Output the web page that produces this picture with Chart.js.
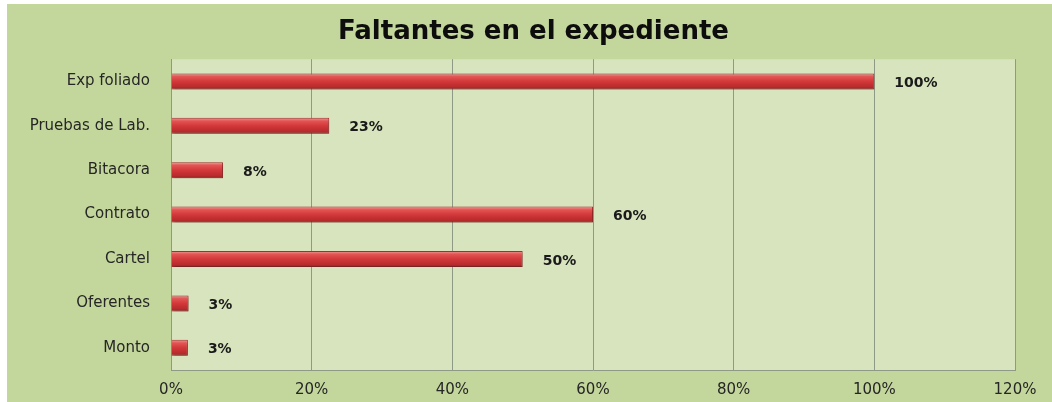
<!DOCTYPE html>
<html lang="es">
<head>
  <meta charset="UTF-8" />
  <title>Faltantes en el expediente</title>
  <script src="https://cdn.jsdelivr.net/npm/chart.js"></script>
  <style>
    body {
      margin: 0;
      background: #ffffff;
    }
    .chart-box {
      position: absolute;
      left: 7px;
      top: 4px;
      width: 1045px;
      height: 398px;
      background: #c3d69b;
    }
  </style>
</head>
<body>
  <div class="chart-box">
    <canvas id="faltantes"></canvas>
  </div>

<script>
  const categories = ['Exp foliado', 'Pruebas de Lab.', 'Bitacora', 'Contrato', 'Cartel', 'Oferentes', 'Monto'];
  const values = [100, 22.5, 7.4, 60, 50, 2.5, 2.4];
  const valueLabels = ['100%', '23%', '8%', '60%', '50%', '3%', '3%'];
  const xTicks = [0, 20, 40, 60, 80, 100, 120];

  const FONT = "'DejaVu Sans', sans-serif";

  // light green plot area like the Excel chart
  const plotBg = {
    id: 'plotBg',
    beforeDraw(chart) {
      const { ctx, chartArea: a } = chart;
      ctx.save();
      ctx.fillStyle = '#d7e4bd';
      ctx.fillRect(a.left, a.top, a.right - a.left, a.bottom - a.top);
      ctx.restore();
    }
  };

  // soft shadow under the bars
  const barShadow = {
    id: 'barShadow',
    beforeDatasetDraw(chart) {
      const ctx = chart.ctx;
      ctx.save();
      ctx.shadowColor = 'rgba(0,0,0,0.35)';
      ctx.shadowBlur = 3;
      ctx.shadowOffsetX = 1;
      ctx.shadowOffsetY = 2;
    },
    afterDatasetDraw(chart) {
      chart.ctx.restore();
    }
  };

  // percent labels to the right of each bar
  const valueText = {
    id: 'valueText',
    afterDatasetsDraw(chart) {
      const ctx = chart.ctx;
      const meta = chart.getDatasetMeta(0);
      ctx.save();
      ctx.font = 'bold 14px ' + FONT;
      ctx.fillStyle = '#1a1a1a';
      ctx.textBaseline = 'middle';
      ctx.textAlign = 'left';
      meta.data.forEach((bar, i) => {
        ctx.fillText(valueLabels[i], bar.x + 20, bar.y + 2);
      });
      ctx.restore();
    }
  };

  function barFill(context) {
    const chart = context.chart;
    const y = chart.scales.y;
    if (!y || context.dataIndex === undefined) return '#c0504d';
    const c = y.getPixelForValue(context.dataIndex);
    if (!isFinite(c)) return '#c0504d';
    const g = chart.ctx.createLinearGradient(0, c - 8, 0, c + 8);
    g.addColorStop(0, '#f29a98');
    g.addColorStop(0.2, '#e25553');
    g.addColorStop(0.5, '#d3383a');
    g.addColorStop(0.85, '#b82b2c');
    g.addColorStop(1, '#922222');
    return g;
  }

  new Chart(document.getElementById('faltantes'), {
    type: 'bar',
    data: {
      labels: categories,
      datasets: [{
        data: values,
        backgroundColor: barFill,
        borderColor: '#a83030',
        borderWidth: 1,
        barPercentage: 0.36,
        categoryPercentage: 1
      }]
    },
    options: {
      indexAxis: 'y',
      responsive: true,
      maintainAspectRatio: false,
      animation: false,
      layout: { padding: { left: 8, right: 0, top: 0, bottom: 0 } },
      plugins: {
        legend: { display: false },
        tooltip: { enabled: false },
        title: {
          display: true,
          text: 'Faltantes en el expediente',
          color: '#0d0d0d',
          font: { family: FONT, size: 26, weight: 'bold' },
          padding: { top: 13, bottom: 11 }
        }
      },
      scales: {
        x: {
          min: 0,
          max: 120,
          afterBuildTicks: s => { s.ticks = xTicks.map(v => ({ value: v })); },
          afterFit: s => { s.height = 32; s.paddingRight = 37; },
          ticks: {
            callback: v => v + '%',
            color: '#262626',
            font: { family: FONT, size: 15 },
            padding: 11,
            maxRotation: 0
          },
          grid: { color: '#8e9a86', lineWidth: 1, drawTicks: false },
          border: { color: '#8e9a86', width: 1 }
        },
        y: {
          afterFit: s => { s.width = 156; },
          ticks: {
            color: '#262626',
            font: { family: FONT, size: 15 },
            padding: 21
          },
          grid: { display: false, drawTicks: false },
          border: { color: '#8e9a86', width: 1 }
        }
      }
    },
    plugins: [plotBg, barShadow, valueText]
  });
</script>
</body>
</html>
